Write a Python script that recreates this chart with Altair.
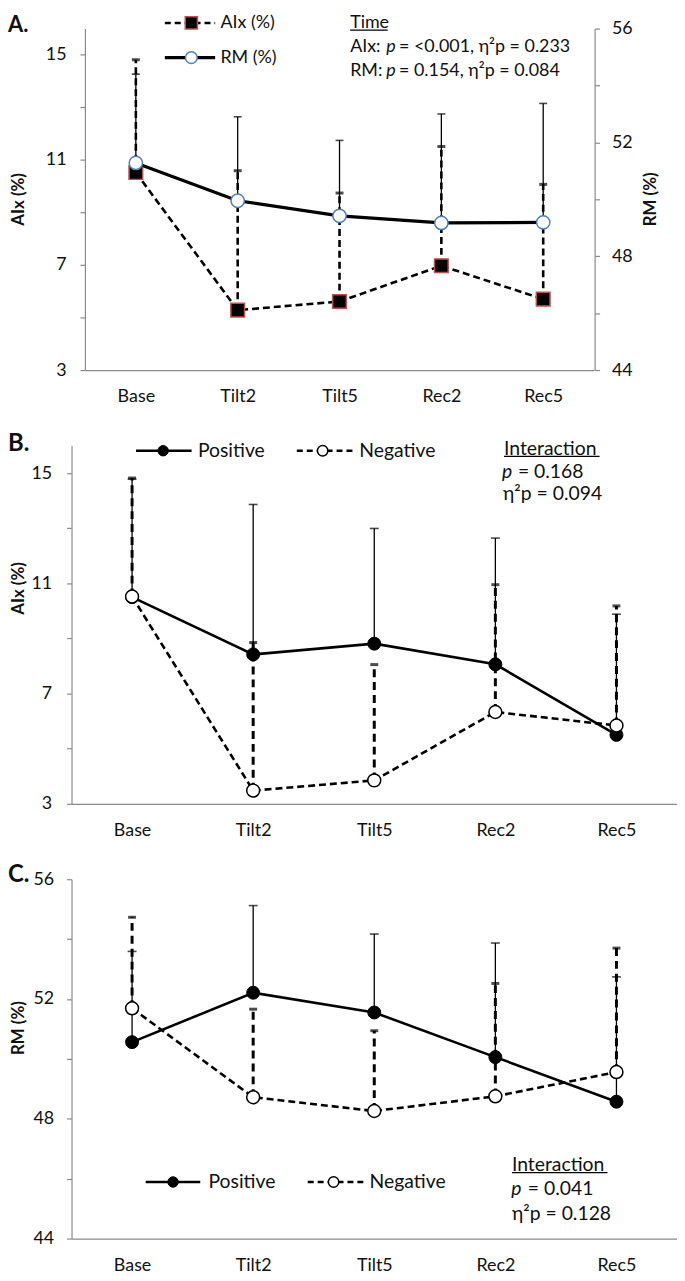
import altair as alt
import pandas as pd

phases = ["Base", "Tilt2", "Tilt5", "Rec2", "Rec5"]

# Panel A - whole sample (mean and mean + SD)
a_aix_mean = [10.52, 5.28, 5.61, 6.97, 5.70]
a_aix_upper = [14.81, 10.59, 9.74, 11.51, 10.07]
a_rm_mean = [51.28, 49.95, 49.42, 49.17, 49.19]
a_rm_upper = [54.40, 52.90, 52.07, 53.00, 53.37]

# Panel B - AIx by group
b_pos_mean = [10.50, 8.42, 8.81, 8.06, 5.50]
b_pos_upper = [14.78, 13.86, 12.99, 12.64, 9.88]
b_neg_mean = [10.52, 3.48, 3.85, 6.33, 5.84]
b_neg_upper = [14.82, 8.85, 8.05, 10.95, 10.18]

# Panel C - RM by group
c_pos_mean = [50.56, 52.21, 51.55, 50.06, 48.57]
c_pos_upper = [53.59, 55.12, 54.17, 53.87, 52.74]
c_neg_mean = [51.69, 48.72, 48.26, 48.75, 49.56]
c_neg_upper = [54.73, 51.66, 50.94, 52.52, 53.70]

aix_ticks = [3, 5, 7, 9, 11, 13, 15]
rm_ticks = [44, 46, 48, 50, 52, 54, 56]

FONT = "Lato"
GREY = "#8a8a8a"
INK = "#111111"
RED = "#C0504D"
BLUE = "#4F81BD"
DASH = [7, 4]


def x_enc(rng=None):
    sc = alt.Scale(type="point", padding=0.5, range=rng) if rng else alt.Scale(type="point", padding=0.5)
    return alt.X("phase:N", sort=phases, scale=sc,
                 axis=alt.Axis(title=None, labelAngle=0, ticks=False, tickSize=0,
                               domainColor=GREY, domainWidth=1.2, grid=False,
                               labelFont=FONT, labelFontSize=18, labelColor=INK,
                               labelPadding=18))


def y_axis(orient, values, expr, offset=0, pad=14):
    return alt.Axis(orient=orient, values=values, labelExpr=expr, title=None, grid=False,
                    domainColor=GREY, domainWidth=1.2, tickColor=GREY, tickWidth=1.2,
                    tickSize=5, labelPadding=pad, labelFont=FONT, labelFontSize=18,
                    labelColor=INK, offset=offset)


def series(mean, upper, yscale, yaxis, xe, line_kw, err_kw, cap_kw, pt_kw):
    df = pd.DataFrame({"phase": phases, "mean": mean, "upper": upper})
    y = alt.Y("mean:Q", scale=yscale, axis=yaxis)
    yu = alt.Y("upper:Q", scale=yscale, axis=yaxis)
    base = alt.Chart(df)
    line = base.mark_line(**line_kw).encode(x=xe, y=y)
    err = base.mark_rule(**err_kw).encode(x=xe, y=y, y2="upper:Q")
    cap = base.mark_tick(orient="horizontal", **cap_kw).encode(x=xe, y=yu)
    pts = base.mark_point(**pt_kw).encode(x=xe, y=y)
    return line, err, cap, pts


def txt(text, x, y, size=18, weight="normal", style="normal", align="left", angle=0):
    return alt.Chart(pd.DataFrame({"t": [text]})).mark_text(
        align=align, baseline="middle", font=FONT, fontSize=size, fontWeight=weight,
        fontStyle=style, angle=angle, color=INK
    ).encode(x=alt.value(x), y=alt.value(y), text="t:N")


def seg(x1, x2, y, width=1.2, dash=None, opacity=1):
    kw = dict(color="black", strokeWidth=width, opacity=opacity)
    if dash:
        kw["strokeDash"] = dash
    return alt.Chart(pd.DataFrame({"k": [0]})).mark_rule(**kw).encode(
        x=alt.value(x1), x2=alt.value(x2), y=alt.value(y))


def glyph(x, y, **kw):
    return alt.Chart(pd.DataFrame({"k": [0]})).mark_point(**kw).encode(
        x=alt.value(x), y=alt.value(y))


SQUARE = dict(shape="square", filled=True, fill="black", stroke=RED, strokeWidth=1.5,
              opacity=1)
OPEN_BLUE = dict(shape="circle", filled=True, fill="white", stroke=BLUE, strokeWidth=1.5,
                 opacity=1)
FILLED = dict(shape="circle", filled=True, fill="black", stroke="black", strokeWidth=1,
              opacity=1)
OPEN = dict(shape="circle", filled=True, fill="white", stroke="black", strokeWidth=1.5,
            opacity=1)

# ---------------- Panel A ----------------
xa = x_enc([13.5, 526.5])
aix_scale = alt.Scale(domain=[3, 16], nice=False, zero=False)
rm_scale = alt.Scale(domain=[44, 56], nice=False, zero=False)
aix_ax = y_axis("left", aix_ticks, "datum.value % 4 == 3 ? datum.label : ''", offset=-13.5)
rm_ax = y_axis("right", rm_ticks, "datum.value % 4 == 0 ? datum.label : ''", pad=12)

a_aix = alt.layer(*series(a_aix_mean, a_aix_upper, aix_scale, aix_ax, xa,
                          dict(color="black", strokeWidth=2.6, strokeDash=DASH),
                          dict(color="black", strokeWidth=2.6, strokeDash=DASH),
                          dict(color="black", size=8, thickness=3),
                          dict(size=190, **SQUARE)))
a_rm = alt.layer(*series(a_rm_mean, a_rm_upper, rm_scale, rm_ax, xa,
                         dict(color="black", strokeWidth=3.2),
                         dict(color="black", strokeWidth=1.3),
                         dict(color="black", size=8, thickness=1.6),
                         dict(size=180, **OPEN_BLUE)))

a_notes = [
    seg(-64, -60, -26, width=0.01, opacity=0),  # invisible layout anchor
    txt("A.", -64, -4, size=22, weight="bold"),
    txt("AIx (%)", -53, 172, size=17, weight="bold", align="center", angle=270),
    txt("RM (%)", 584, 172, size=17, weight="bold", align="center", angle=270),
    seg(94, 144.7, -5.7, width=2.6, dash=[6, 4]),
    glyph(120.7, -5.7, size=150, **SQUARE),
    txt("AIx (%)", 150, -5.7),
    seg(94, 144.7, 29.3, width=3.2),
    glyph(120.7, 29.3, size=140, **OPEN_BLUE),
    txt("RM (%)", 150, 29.3),
    txt("Time", 280.7, -5.7),
    seg(280.7, 318.5, 1.5, width=1.2),
    txt("AIx:", 280.7, 18.7),
    txt("p", 317, 18.7, style="italic"),
    txt("= <0.001, η²p = 0.233", 330, 18.7),
    txt("RM:", 280.7, 42.7),
    txt("p", 317, 42.7, style="italic"),
    txt("= 0.154, η²p = 0.084", 330, 42.7),
]

panelA = alt.layer(a_aix, a_rm, *a_notes).resolve_scale(y="independent").properties(
    width=527, height=344)

# ---------------- Panel B ----------------
xb = x_enc()
b_ax = y_axis("left", aix_ticks, "datum.value % 4 == 3 ? datum.label : ''", pad=15)
bp = series(b_pos_mean, b_pos_upper, aix_scale, b_ax, xb,
            dict(color="black", strokeWidth=2.6),
            dict(color="black", strokeWidth=1.3),
            dict(color="black", size=9, thickness=1.6),
            dict(size=170, **FILLED))
bn = series(b_neg_mean, b_neg_upper, aix_scale, b_ax, xb,
            dict(color="black", strokeWidth=2.6, strokeDash=DASH),
            dict(color="black", strokeWidth=3, strokeDash=[8, 5]),
            dict(color="black", size=8, thickness=3),
            dict(size=170, **OPEN))

b_notes = [
    txt("B.", -64, -1, size=24, weight="bold"),
    txt("AIx (%)", -53, 144, size=17, weight="bold", align="center", angle=270),
    seg(65, 121, 5.3, width=2.6),
    glyph(92.3, 5.3, size=110, **FILLED),
    txt("Positive", 127.3, 5.3, size=19.5),
    seg(227, 286, 5.3, width=2.6, dash=[6, 4]),
    glyph(253, 5.3, size=110, **OPEN),
    txt("Negative", 290, 5.3, size=19.5),
    txt("Interaction", 435.7, 3.3, size=19.5),
    seg(435.7, 532, 11, width=1.2),
    txt("p", 433.7, 26.7, size=19.5, style="italic"),
    txt("= 0.168", 449.7, 26.7, size=19.5),
    txt("η²p = 0.094", 434.7, 49.3, size=19.5),
]

panelB = alt.layer(bp[0], bn[0], bp[1], bn[1], bp[2], bn[2], bp[3], bn[3],
                   *b_notes).properties(width=610, height=361)

# ---------------- Panel C ----------------
xc = x_enc()
c_ax = y_axis("left", rm_ticks, "datum.value % 4 == 0 ? datum.label : ''", pad=13)
cp = series(c_pos_mean, c_pos_upper, rm_scale, c_ax, xc,
            dict(color="black", strokeWidth=2.6),
            dict(color="black", strokeWidth=1.3),
            dict(color="black", size=9, thickness=1.6),
            dict(size=170, **FILLED))
cn = series(c_neg_mean, c_neg_upper, rm_scale, c_ax, xc,
            dict(color="black", strokeWidth=2.6, strokeDash=DASH),
            dict(color="black", strokeWidth=3, strokeDash=[8, 5]),
            dict(color="black", size=8, thickness=3),
            dict(size=170, **OPEN))

c_notes = [
    txt("C.", -64, -4, size=24, weight="bold"),
    txt("RM (%)", -53, 150, size=17, weight="bold", align="center", angle=270),
    seg(74.7, 129.7, 305, width=2.6),
    glyph(102.3, 305, size=110, **FILLED),
    txt("Positive", 138, 305, size=19.5),
    seg(238, 294.7, 305, width=2.6, dash=[6, 4]),
    glyph(264, 305, size=110, **OPEN),
    txt("Negative", 300.3, 305, size=19.5),
    txt("Interaction", 443.7, 288, size=19.5),
    seg(443.7, 540, 295.5, width=1.2),
    txt("p", 443, 312.3, size=19.5, style="italic"),
    txt("= 0.041", 459.7, 312.3, size=19.5),
    txt("η²p = 0.128", 443.7, 337.3, size=19.5),
]

panelC = alt.layer(cp[0], cn[0], cp[1], cn[1], cp[2], cn[2], cp[3], cn[3],
                   *c_notes).properties(width=610, height=362)

chart = alt.vconcat(panelA, panelB, panelC, spacing=76, bounds="flush").properties(
    padding={"left": 0, "top": -10, "right": 0, "bottom": 0}
).configure_view(stroke=None)

chart.save("out.html", embed_options={"renderer": "svg", "actions": False})
